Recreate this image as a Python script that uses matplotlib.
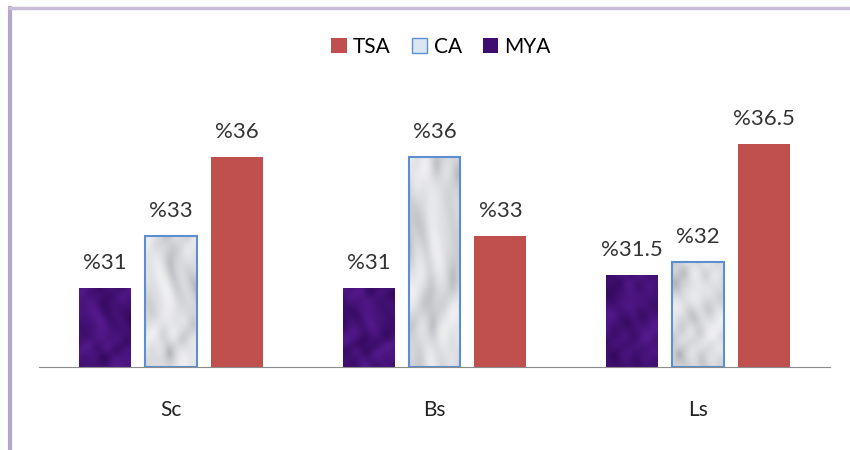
import numpy as np
import matplotlib.pyplot as plt
from matplotlib.patches import Patch

plt.rcParams['font.family'] = ['Lato', 'DejaVu Sans']

groups = ['Sc', 'Bs', 'Ls']
series = ['MYA', 'CA', 'TSA']
mya = [31, 31, 31.5]
ca = [33, 36, 32]
tsa = [36, 33, 36.5]
labels_mya = ['%31', '%31', '%31.5']
labels_ca = ['%33', '%36', '%32']
labels_tsa = ['%36', '%33', '%36.5']

base = 28


def marble(kind, phase=0.0, n=160):
    # soft mottled texture built from a few sines
    yy, xx = np.mgrid[0:n, 0:n] / n
    v = (np.sin(4.3 * xx + 3.1 * yy + 2.2 * np.sin(5.7 * yy + 1.3 + phase))
         + 0.7 * np.sin(7.9 * yy - 5.3 * xx + 1.7 * np.sin(6.1 * xx + 0.4) + phase)
         + 0.45 * np.sin(13.7 * xx + 9.1 * yy + 2.5 * np.sin(8.3 * yy) + 2 * phase)
         + 0.25 * np.sin(21.3 * yy - 17.9 * xx + 1.1))
    v = (v - v.min()) / (v.max() - v.min())
    img = np.zeros((n, n, 3))
    if kind == 'white':
        lo = np.array([0.68, 0.69, 0.71])
        hi = np.array([0.94, 0.94, 0.95])
        t = v ** 0.55
    else:
        lo = np.array([0.21, 0.04, 0.38])
        hi = np.array([0.33, 0.10, 0.55])
        t = v
    for c in range(3):
        img[..., c] = lo[c] + (hi[c] - lo[c]) * t
    return img


fig = plt.figure(figsize=(8.5, 4.5), dpi=100)
ax = fig.add_axes([39 / 850, 83 / 450, 791 / 850, 262 / 450])

x = np.arange(len(groups))
w = 0.197
step = 0.25

for i, (vals, labs, name) in enumerate(zip([mya, ca, tsa],
                                           [labels_mya, labels_ca, labels_tsa],
                                           series)):
    pos = x + (i - 1) * step
    heights = [v - base for v in vals]
    if name == 'TSA':
        bars = ax.bar(pos, heights, w, bottom=base, color='#C0504D', zorder=3)
    else:
        bars = ax.bar(pos, heights, w, bottom=base, color='none', zorder=3,
                      edgecolor='#5B8FD0' if name == 'CA' else 'none',
                      linewidth=1.5)
        kind = 'white' if name == 'CA' else 'purple'
        for k, b in enumerate(bars):
            tex = marble(kind, phase=1.3 * k)
            im = ax.imshow(tex, extent=[b.get_x(), b.get_x() + b.get_width(),
                                        base, base + b.get_height()],
                           aspect='auto', zorder=2, interpolation='bilinear')
            im.set_clip_path(b)
    for p, v, lab in zip(pos, vals, labs):
        ax.annotate(lab, (p, v), xytext=(0, 11), textcoords='offset points',
                    ha='center', va='bottom', fontsize=16, color='#333333')

ax.set_xlim(-0.5, 2.5)
ax.set_ylim(base, 38)
ax.set_xticks(x)
ax.set_xticklabels(groups, fontsize=15, color='#222222')
ax.tick_params(axis='x', length=0, pad=24)
ax.set_yticks([])
for s in ['top', 'right', 'left']:
    ax.spines[s].set_visible(False)
ax.spines['bottom'].set_color('#8c8c8c')
ax.spines['bottom'].set_zorder(4)

handles = [Patch(facecolor='#C0504D', label='TSA'),
           Patch(facecolor='#DCE6F2', edgecolor='#5B8FD0', label='CA'),
           Patch(facecolor='#3E0F6E', label='MYA')]
fig.legend(handles=handles, loc='center', bbox_to_anchor=(441 / 850, 1 - 47 / 450),
           ncol=3, frameon=False, fontsize=15, handlelength=0.75,
           handleheight=0.75, handletextpad=0.3, columnspacing=1.0)

# frame around the chart area
fig.add_artist(plt.Line2D([10 / 850, 10 / 850], [0, 1 - 8 / 450],
                          color='#B4A6C8', linewidth=3))
fig.add_artist(plt.Line2D([10 / 850, 1], [1 - 8 / 450, 1 - 8 / 450],
                          color='#C8BCD8', linewidth=2.5))

fig.savefig('out.png', dpi=100)
